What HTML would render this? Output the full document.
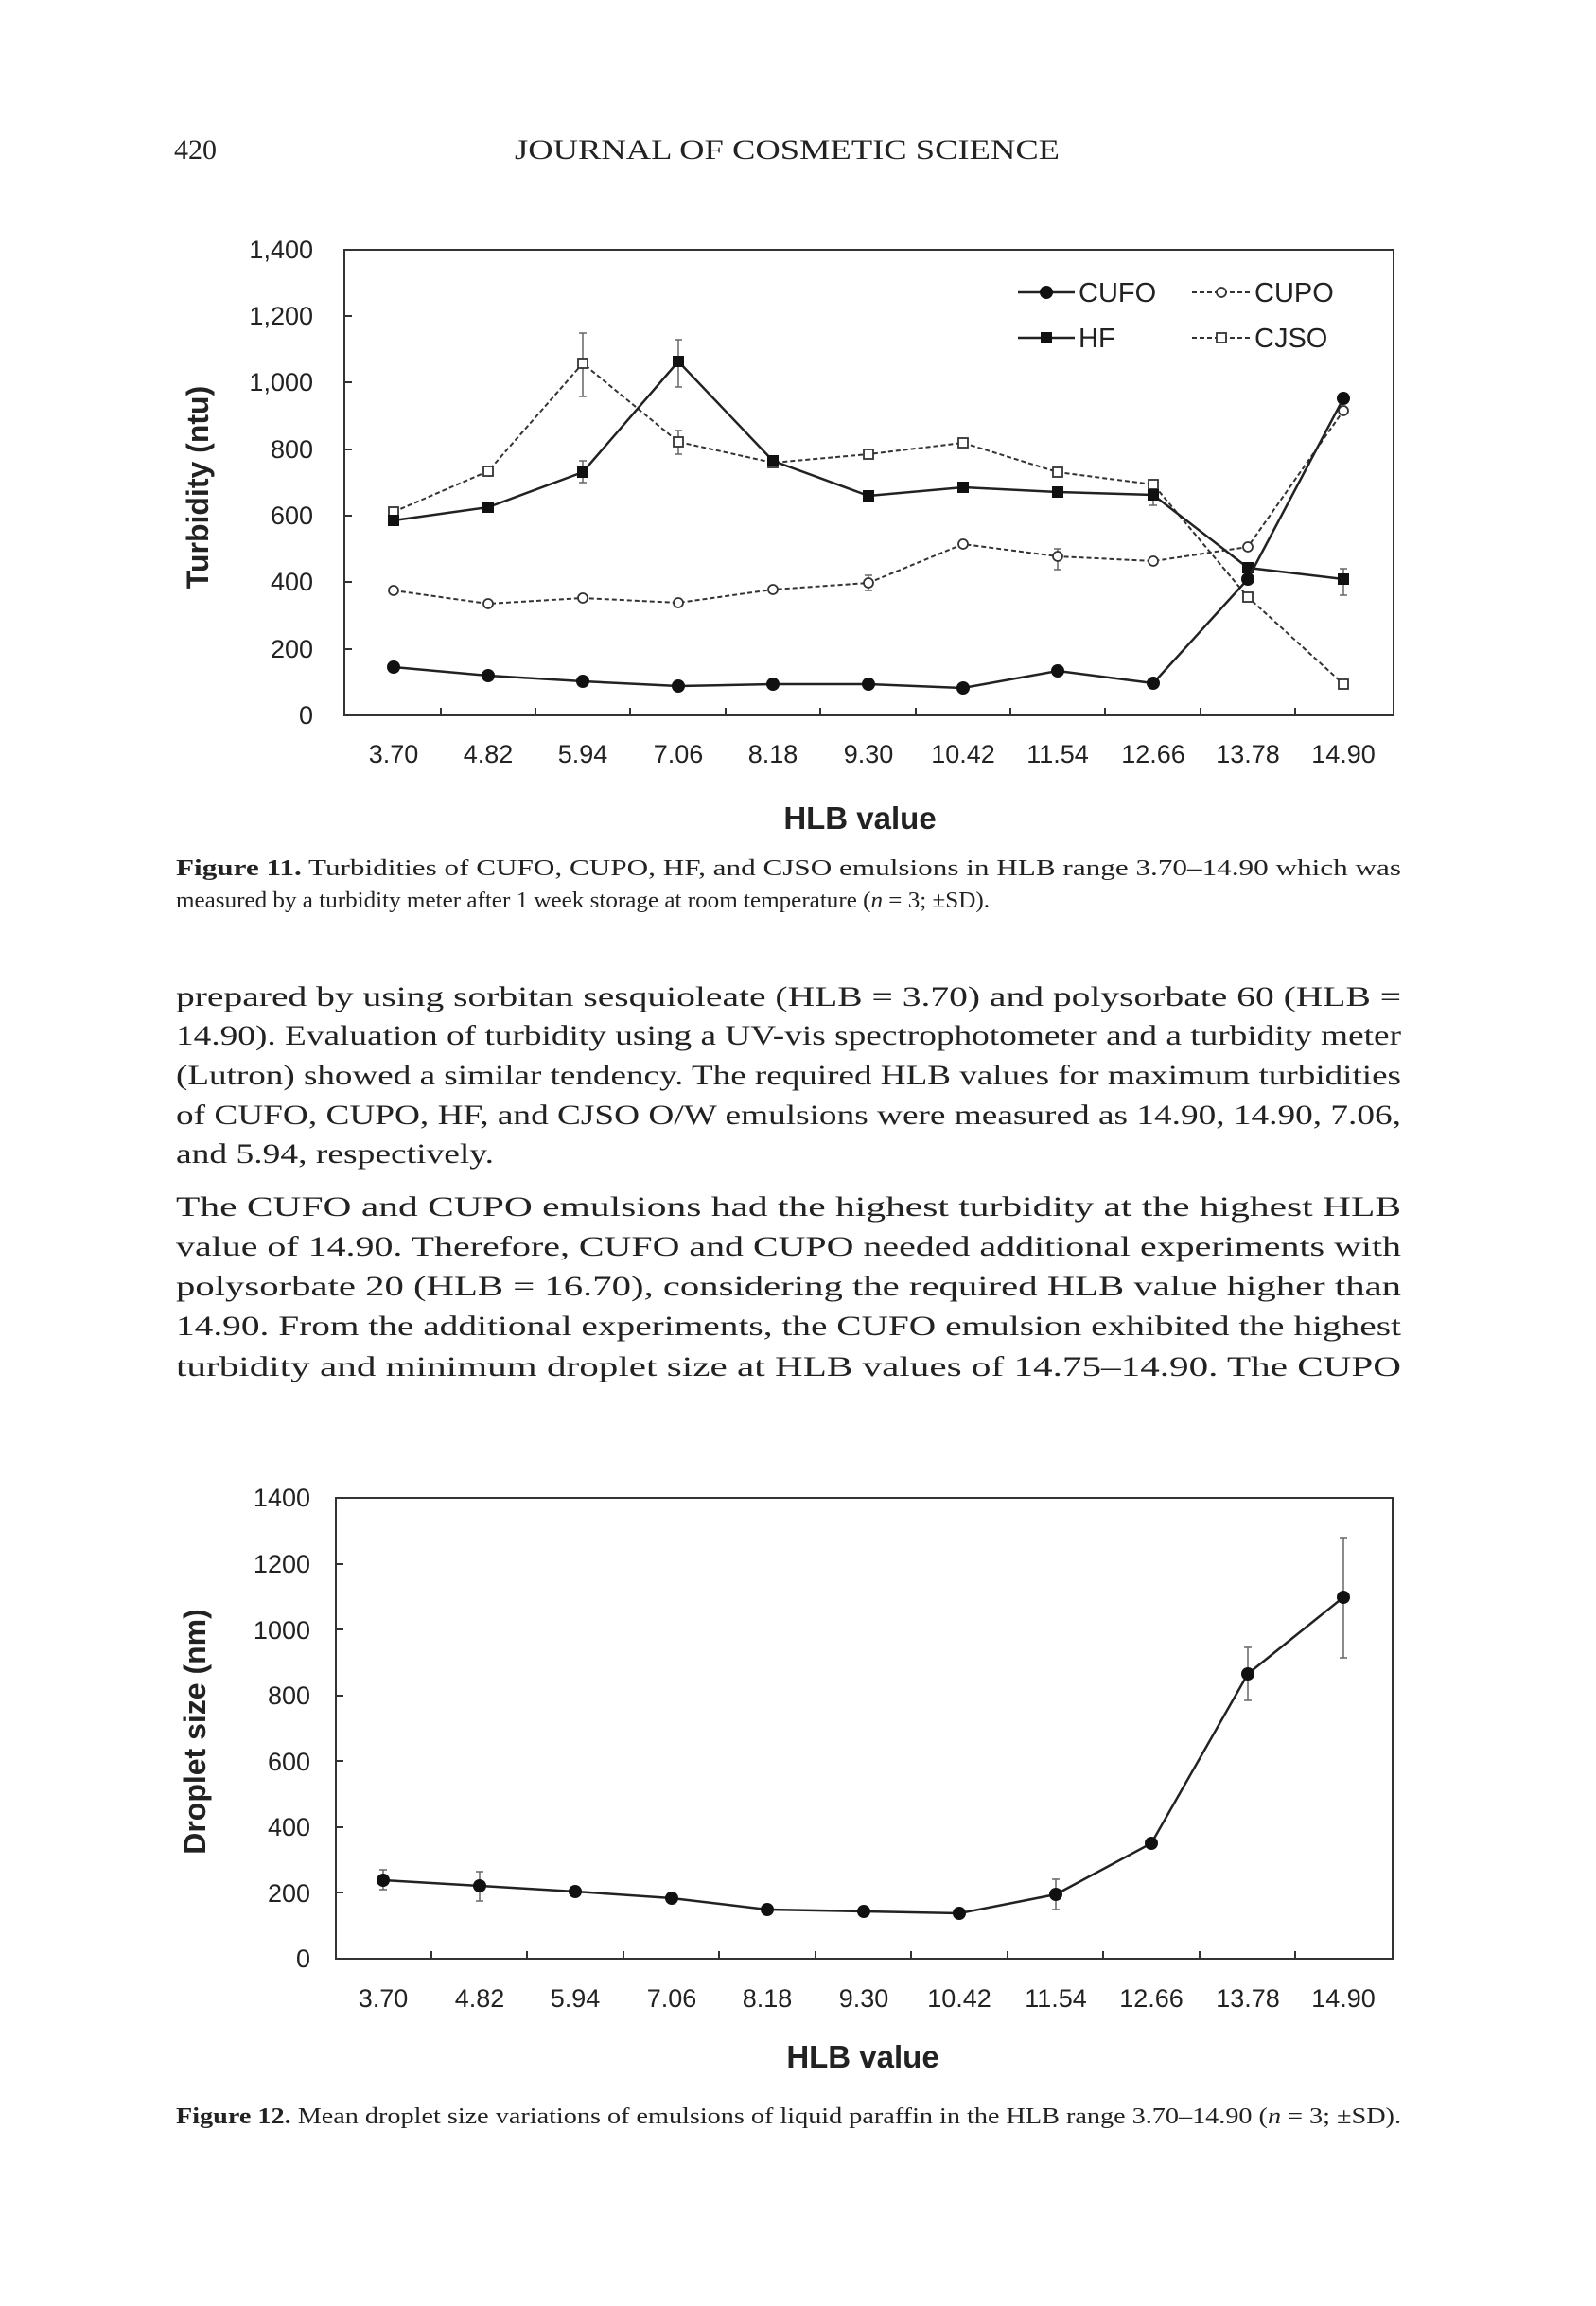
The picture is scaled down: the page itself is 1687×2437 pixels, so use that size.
<!DOCTYPE html>
<html><head><meta charset="utf-8"><style>html,body{margin:0;padding:0;background:#fff}svg{display:block}</style></head><body>
<svg xmlns="http://www.w3.org/2000/svg" width="1687" height="2437" viewBox="0 0 1687 2437">
<rect width="1687" height="2437" fill="#fff"/>
<g font-family="Liberation Serif, serif" fill="#222">
<text x="184" y="168" font-size="30">420</text>
<text x="544" y="168" font-size="30" textLength="576" lengthAdjust="spacingAndGlyphs">JOURNAL OF COSMETIC SCIENCE</text>
<text x="186" y="925" font-size="24" textLength="1295" lengthAdjust="spacingAndGlyphs"><tspan font-weight="bold">Figure 11.</tspan>  Turbidities of CUFO, CUPO, HF, and CJSO emulsions in HLB range 3.70–14.90 which was</text>
<text x="186" y="959" font-size="24" textLength="860" lengthAdjust="spacingAndGlyphs">measured by a turbidity meter after 1 week storage at room temperature (<tspan font-style="italic">n</tspan> = 3; ±SD).</text>
<g font-size="30">
<text x="186" y="1063" textLength="1295" lengthAdjust="spacingAndGlyphs">prepared by using sorbitan sesquioleate (HLB = 3.70) and polysorbate 60 (HLB =</text>
<text x="186" y="1104" textLength="1295" lengthAdjust="spacingAndGlyphs">14.90). Evaluation of turbidity using a UV-vis spectrophotometer and a turbidity meter</text>
<text x="186" y="1146" textLength="1295" lengthAdjust="spacingAndGlyphs">(Lutron) showed a similar tendency. The required HLB values for maximum turbidities</text>
<text x="186" y="1188" textLength="1295" lengthAdjust="spacingAndGlyphs">of CUFO, CUPO, HF, and CJSO O/W emulsions were measured as 14.90, 14.90, 7.06,</text>
<text x="186" y="1229" textLength="336" lengthAdjust="spacingAndGlyphs">and 5.94, respectively.</text>
<text x="186" y="1285" textLength="1295" lengthAdjust="spacingAndGlyphs">The CUFO and CUPO emulsions had the highest turbidity at the highest HLB</text>
<text x="186" y="1327" textLength="1295" lengthAdjust="spacingAndGlyphs">value of 14.90. Therefore, CUFO and CUPO needed additional experiments with</text>
<text x="186" y="1369" textLength="1295" lengthAdjust="spacingAndGlyphs">polysorbate 20 (HLB = 16.70), considering the required HLB value higher than</text>
<text x="186" y="1411" textLength="1295" lengthAdjust="spacingAndGlyphs">14.90. From the additional experiments, the CUFO emulsion exhibited the highest</text>
<text x="186" y="1454" textLength="1295" lengthAdjust="spacingAndGlyphs">turbidity and minimum droplet size at HLB values of 14.75–14.90. The CUPO</text>
</g>
<text x="186" y="2244" font-size="24" textLength="1295" lengthAdjust="spacingAndGlyphs"><tspan font-weight="bold">Figure 12.</tspan>  Mean droplet size variations of emulsions of liquid paraffin in the HLB range 3.70–14.90 (<tspan font-style="italic">n</tspan> = 3; ±SD).</text>
</g>

<!-- Chart 1 -->
<g font-family="Liberation Sans, sans-serif" fill="#222">
<rect x="364" y="264" width="1109" height="492" fill="none" stroke="#333" stroke-width="2"/>
<g font-size="27" text-anchor="end">
<text x="331" y="765">0</text><text x="331" y="695">200</text><text x="331" y="624">400</text><text x="331" y="554">600</text><text x="331" y="484">800</text><text x="331" y="413">1,000</text><text x="331" y="343">1,200</text><text x="331" y="273">1,400</text>
</g>
<g stroke="#333" stroke-width="2">
<line x1="364" y1="686" x2="372" y2="686"/><line x1="364" y1="615" x2="372" y2="615"/><line x1="364" y1="545" x2="372" y2="545"/><line x1="364" y1="475" x2="372" y2="475"/><line x1="364" y1="404" x2="372" y2="404"/><line x1="364" y1="334" x2="372" y2="334"/>
<line x1="466" y1="756" x2="466" y2="748"/><line x1="566" y1="756" x2="566" y2="748"/><line x1="666" y1="756" x2="666" y2="748"/><line x1="767" y1="756" x2="767" y2="748"/><line x1="867" y1="756" x2="867" y2="748"/><line x1="968" y1="756" x2="968" y2="748"/><line x1="1068" y1="756" x2="1068" y2="748"/><line x1="1168" y1="756" x2="1168" y2="748"/><line x1="1269" y1="756" x2="1269" y2="748"/><line x1="1369" y1="756" x2="1369" y2="748"/>
</g>
<g font-size="27" text-anchor="middle">
<text x="416" y="806">3.70</text><text x="516" y="806">4.82</text><text x="616" y="806">5.94</text><text x="717" y="806">7.06</text><text x="817" y="806">8.18</text><text x="918" y="806">9.30</text><text x="1018" y="806">10.42</text><text x="1118" y="806">11.54</text><text x="1219" y="806">12.66</text><text x="1319" y="806">13.78</text><text x="1420" y="806">14.90</text>
</g>
<text x="909" y="876" font-size="33" font-weight="bold" text-anchor="middle">HLB value</text>
<text transform="translate(220,515) rotate(-90)" font-size="32" font-weight="bold" text-anchor="middle">Turbidity (ntu)</text>
<g stroke="#666" stroke-width="1.5" fill="none">
<path d="M616 352V419M612 352h8M612 419h8"/>
<path d="M717 359V409M713 359h8M713 409h8"/>
<path d="M717 455V480M713 455h8M713 480h8"/>
<path d="M1420 601V629M1416 601h8M1416 629h8"/>
<path d="M616 487V510M612 487h8M612 510h8"/>
<path d="M1219 512V534M1215 512h8M1215 534h8"/>
<path d="M918 608V624M914 608h8M914 624h8"/>
<path d="M1118 580V602M1114 580h8M1114 602h8"/>
</g>
<polyline fill="none" stroke="#333" stroke-width="2" stroke-dasharray="5,3" points="416,624 516,638 616,632 717,637 817,623 918,616 1018,575 1118,588 1219,593 1319,578 1420,434"/>
<g fill="#fff" stroke="#333" stroke-width="1.8">
<circle cx="416" cy="624" r="5"/><circle cx="516" cy="638" r="5"/><circle cx="616" cy="632" r="5"/><circle cx="717" cy="637" r="5"/><circle cx="817" cy="623" r="5"/><circle cx="918" cy="616" r="5"/><circle cx="1018" cy="575" r="5"/><circle cx="1118" cy="588" r="5"/><circle cx="1219" cy="593" r="5"/><circle cx="1319" cy="578" r="5"/><circle cx="1420" cy="434" r="5"/>
</g>
<polyline fill="none" stroke="#333" stroke-width="2" stroke-dasharray="5,3" points="416,541 516,498 616,384 717,467 817,489 918,480 1018,468 1118,499 1219,512 1319,631 1420,723"/>
<g fill="#fff" stroke="#333" stroke-width="1.8">
<rect x="411" y="536" width="10" height="10"/><rect x="511" y="493" width="10" height="10"/><rect x="611" y="379" width="10" height="10"/><rect x="712" y="462" width="10" height="10"/><rect x="812" y="484" width="10" height="10"/><rect x="913" y="475" width="10" height="10"/><rect x="1013" y="463" width="10" height="10"/><rect x="1113" y="494" width="10" height="10"/><rect x="1214" y="507" width="10" height="10"/><rect x="1314" y="626" width="10" height="10"/><rect x="1415" y="718" width="10" height="10"/>
</g>
<polyline fill="none" stroke="#222" stroke-width="2.5" points="416,550 516,536 616,499 717,382 817,487 918,524 1018,515 1118,520 1219,523 1319,600 1420,612"/>
<g fill="#111">
<rect x="410" y="544" width="12" height="12"/><rect x="510" y="530" width="12" height="12"/><rect x="610" y="493" width="12" height="12"/><rect x="711" y="376" width="12" height="12"/><rect x="811" y="481" width="12" height="12"/><rect x="912" y="518" width="12" height="12"/><rect x="1012" y="509" width="12" height="12"/><rect x="1112" y="514" width="12" height="12"/><rect x="1213" y="517" width="12" height="12"/><rect x="1313" y="594" width="12" height="12"/><rect x="1414" y="606" width="12" height="12"/>
</g>
<polyline fill="none" stroke="#222" stroke-width="2.5" points="416,705 516,714 616,720 717,725 817,723 918,723 1018,727 1118,709 1219,722 1319,612 1420,421"/>
<g fill="#111">
<circle cx="416" cy="705" r="7"/><circle cx="516" cy="714" r="7"/><circle cx="616" cy="720" r="7"/><circle cx="717" cy="725" r="7"/><circle cx="817" cy="723" r="7"/><circle cx="918" cy="723" r="7"/><circle cx="1018" cy="727" r="7"/><circle cx="1118" cy="709" r="7"/><circle cx="1219" cy="722" r="7"/><circle cx="1319" cy="612" r="7"/><circle cx="1420" cy="421" r="7"/>
</g>
<g font-size="29">
<line x1="1076" y1="309" x2="1136" y2="309" stroke="#222" stroke-width="2.5"/><circle cx="1106" cy="309" r="7" fill="#111"/><text x="1140" y="319">CUFO</text>
<line x1="1260" y1="309" x2="1322" y2="309" stroke="#333" stroke-width="2" stroke-dasharray="5,3"/><circle cx="1291" cy="309" r="5" fill="#fff" stroke="#333" stroke-width="1.8"/><text x="1326" y="319">CUPO</text>
<line x1="1076" y1="357" x2="1136" y2="357" stroke="#222" stroke-width="2.5"/><rect x="1100" y="351" width="12" height="12" fill="#111"/><text x="1140" y="367">HF</text>
<line x1="1260" y1="357" x2="1322" y2="357" stroke="#333" stroke-width="2" stroke-dasharray="5,3"/><rect x="1286" y="352" width="10" height="10" fill="#fff" stroke="#333" stroke-width="1.8"/><text x="1326" y="367">CJSO</text>
</g>
</g>

<!-- Chart 2 -->
<g font-family="Liberation Sans, sans-serif" fill="#222" transform="translate(0,-5)">
<rect x="355" y="1588" width="1117" height="487" fill="none" stroke="#333" stroke-width="2"/>
<g font-size="27" text-anchor="end">
<text x="328" y="2084">0</text><text x="328" y="2015">200</text><text x="328" y="1945">400</text><text x="328" y="1876">600</text><text x="328" y="1806">800</text><text x="328" y="1737">1000</text><text x="328" y="1667">1200</text><text x="328" y="1597">1400</text>
</g>
<g stroke="#333" stroke-width="2">
<line x1="355" y1="2005" x2="363" y2="2005"/><line x1="355" y1="1936" x2="363" y2="1936"/><line x1="355" y1="1866" x2="363" y2="1866"/><line x1="355" y1="1797" x2="363" y2="1797"/><line x1="355" y1="1727" x2="363" y2="1727"/><line x1="355" y1="1658" x2="363" y2="1658"/>
<line x1="456" y1="2075" x2="456" y2="2067"/><line x1="557" y1="2075" x2="557" y2="2067"/><line x1="659" y1="2075" x2="659" y2="2067"/><line x1="760" y1="2075" x2="760" y2="2067"/><line x1="862" y1="2075" x2="862" y2="2067"/><line x1="963" y1="2075" x2="963" y2="2067"/><line x1="1065" y1="2075" x2="1065" y2="2067"/><line x1="1166" y1="2075" x2="1166" y2="2067"/><line x1="1268" y1="2075" x2="1268" y2="2067"/><line x1="1369" y1="2075" x2="1369" y2="2067"/>
</g>
<g font-size="27" text-anchor="middle">
<text x="405" y="2126">3.70</text><text x="507" y="2126">4.82</text><text x="608" y="2126">5.94</text><text x="710" y="2126">7.06</text><text x="811" y="2126">8.18</text><text x="913" y="2126">9.30</text><text x="1014" y="2126">10.42</text><text x="1116" y="2126">11.54</text><text x="1217" y="2126">12.66</text><text x="1319" y="2126">13.78</text><text x="1420" y="2126">14.90</text>
</g>
<text x="912" y="2190" font-size="33" font-weight="bold" text-anchor="middle">HLB value</text>
<text transform="translate(217,1835) rotate(-90)" font-size="32" font-weight="bold" text-anchor="middle">Droplet size (nm)</text>
<g stroke="#666" stroke-width="1.5" fill="none">
<path d="M405 1981V2002M401 1981h8M401 2002h8"/>
<path d="M507 1983V2014M503 1983h8M503 2014h8"/>
<path d="M1116 1991V2023M1112 1991h8M1112 2023h8"/>
<path d="M1319 1746V1802M1315 1746h8M1315 1802h8"/>
<path d="M1420 1630V1757M1416 1630h8M1416 1757h8"/>
</g>
<polyline fill="none" stroke="#222" stroke-width="2.5" points="405,1992 507,1998 608,2004 710,2011 811,2023 913,2025 1014,2027 1116,2007 1217,1953 1319,1774 1420,1693"/>
<g fill="#111">
<circle cx="405" cy="1992" r="7"/><circle cx="507" cy="1998" r="7"/><circle cx="608" cy="2004" r="7"/><circle cx="710" cy="2011" r="7"/><circle cx="811" cy="2023" r="7"/><circle cx="913" cy="2025" r="7"/><circle cx="1014" cy="2027" r="7"/><circle cx="1116" cy="2007" r="7"/><circle cx="1217" cy="1953" r="7"/><circle cx="1319" cy="1774" r="7"/><circle cx="1420" cy="1693" r="7"/>
</g>
</g>
</svg>
</body></html>
